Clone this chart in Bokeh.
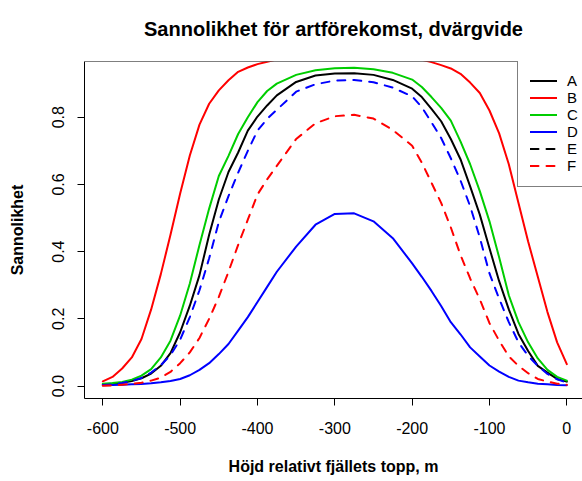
from bokeh.plotting import figure
from bokeh.models import Range1d, FixedTicker, Legend, LegendItem, Span
from bokeh.embed import file_html
from bokeh.resources import INLINE

# ---- data ----
hojd = [-600, -587.5, -575, -562.5, -550, -537.5, -525, -512.5, -500, -487.5, -475, -462.5,
        -450, -437.5, -425, -412.5, -400, -387.5, -375,
        -350, -325, -300, -275, -250, -225,
        -200, -187.5, -175, -162.5, -150, -137.5, -125, -112.5, -100, -87.5, -75, -62.5,
        -50, -37.5, -25, -12.5, 0]

A = [0.005, 0.007, 0.010, 0.015, 0.023, 0.037, 0.060, 0.098, 0.160, 0.239, 0.330, 0.450,
     0.555, 0.637, 0.695, 0.760, 0.802, 0.835, 0.865,
     0.905, 0.924, 0.930, 0.931, 0.926, 0.911,
     0.885, 0.860, 0.825, 0.788, 0.735, 0.675, 0.594, 0.510, 0.410, 0.312, 0.228, 0.155,
     0.104, 0.060, 0.040, 0.021, 0.013]
B = [0.014, 0.027, 0.052, 0.085, 0.140, 0.228, 0.333, 0.450, 0.573, 0.686, 0.778, 0.840,
     0.880, 0.910, 0.935, 0.948, 0.958, 0.965, 0.972,
     0.980, 0.985, 0.987, 0.987, 0.985, 0.980,
     0.975, 0.971, 0.964, 0.955, 0.945, 0.929, 0.903, 0.872, 0.820, 0.752, 0.660, 0.545,
     0.430, 0.325, 0.220, 0.130, 0.065]
C = [0.007, 0.009, 0.012, 0.019, 0.031, 0.050, 0.085, 0.135, 0.210, 0.305, 0.420, 0.528,
     0.625, 0.685, 0.750, 0.800, 0.845, 0.878, 0.900,
     0.926, 0.940, 0.946, 0.947, 0.943, 0.932,
     0.912, 0.890, 0.860, 0.828, 0.790, 0.728, 0.660, 0.580, 0.490, 0.383, 0.270, 0.190,
     0.130, 0.082, 0.048, 0.027, 0.016]
D = [0.002, 0.003, 0.004, 0.005, 0.006, 0.008, 0.011, 0.015, 0.021, 0.032, 0.048, 0.068,
     0.095, 0.125, 0.165, 0.205, 0.250, 0.295, 0.340,
     0.415, 0.480, 0.512, 0.514, 0.490, 0.440,
     0.365, 0.325, 0.283, 0.238, 0.190, 0.154, 0.115, 0.088, 0.061, 0.043, 0.027, 0.016,
     0.011, 0.007, 0.005, 0.003, 0.002]
E = [0.003, 0.005, 0.009, 0.015, 0.024, 0.040, 0.062, 0.092, 0.138, 0.205, 0.285, 0.380,
     0.488, 0.565, 0.635, 0.700, 0.760, 0.795, 0.822,
     0.876, 0.898, 0.909, 0.911, 0.904, 0.888,
     0.862, 0.830, 0.785, 0.738, 0.678, 0.612, 0.535, 0.442, 0.335, 0.260, 0.190, 0.130,
     0.090, 0.060, 0.036, 0.020, 0.010]
F = [0.001, 0.002, 0.004, 0.006, 0.010, 0.016, 0.025, 0.042, 0.068, 0.100, 0.143, 0.200,
     0.265, 0.340, 0.420, 0.495, 0.570, 0.615, 0.655,
     0.735, 0.782, 0.803, 0.807, 0.796, 0.762,
     0.715, 0.665, 0.605, 0.545, 0.472, 0.390, 0.320, 0.258, 0.187, 0.135, 0.088, 0.060,
     0.038, 0.021, 0.013, 0.007, 0.004]

series_names = ["A", "B", "C", "D", "E", "F"]
series_values = [A, B, C, D, E, F]
line_colors = ["black", "#FF0000", "#00CD00", "#0000FF", "#0000FF", "#FF0000"]
line_dashes = ["solid", "solid", "solid", "solid", "8 8", "8 8"]
legend_colors = ["black", "#FF0000", "#00CD00", "#0000FF", "black", "#FF0000"]

x_ticks = [-600, -500, -400, -300, -200, -100, 0]
x_tick_labels = ["-600", "-500", "-400", "-300", "-200", "-100", "0"]
y_ticks = [0.0, 0.2, 0.4, 0.6, 0.8]
y_tick_labels = ["0.0", "0.2", "0.4", "0.6", "0.8"]

title_text = "Sannolikhet för artförekomst, dvärgvide"
x_label = "Höjd relativt fjällets topp, m"
y_label = "Sannolikhet"

FONT = "Liberation Sans"
Y_TOP = 0.9658
Y_BOTTOM = -0.0372

p = figure(width=582, height=481,
           x_range=Range1d(-623.7, 20.3), y_range=Range1d(Y_BOTTOM, Y_TOP),
           output_backend="svg", toolbar_location=None,
           min_border_left=84, min_border_right=0, min_border_top=61, min_border_bottom=83)

p.background_fill_color = "white"
p.border_fill_color = "white"
p.outline_line_color = None
p.grid.visible = False

# title: an empty second line lifts the title line away from the frame
p.title.text = title_text + "\n "
p.title.align = "center"
p.title.text_font = FONT
p.title.text_font_size = "20px"
p.title.text_font_style = "bold"
p.title.text_color = "black"
p.title.standoff = 0

for ax in (p.xaxis[0], p.yaxis[0]):
    ax.axis_line_color = "black"
    ax.axis_line_width = 1
    ax.major_tick_line_color = "black"
    ax.major_tick_out = 7
    ax.major_tick_in = 0
    ax.minor_tick_line_color = None
    ax.major_label_text_font = FONT
    ax.major_label_text_font_size = "16px"
    ax.major_label_text_color = "black"
    ax.axis_label_text_font = FONT
    ax.axis_label_text_font_size = "16px"
    ax.axis_label_text_font_style = "bold"
    ax.axis_label_text_color = "black"

p.xaxis.ticker = FixedTicker(ticks=x_ticks)
p.xaxis.major_label_overrides = {t: s for t, s in zip(x_ticks, x_tick_labels)}
p.xaxis.axis_label = x_label
p.xaxis.major_label_standoff = 16
p.xaxis.axis_label_standoff = 21

p.yaxis.ticker = FixedTicker(ticks=y_ticks)
p.yaxis.major_label_overrides = {t: s for t, s in zip(y_ticks, y_tick_labels)}
p.yaxis.axis_label = y_label
p.yaxis.major_label_orientation = "vertical"
p.yaxis.major_label_standoff = 13
p.yaxis.axis_label_standoff = 24

# top edge of the box
p.add_layout(Span(location=Y_TOP, dimension="width", line_color="black", line_width=1))

# curves
for name, vals, col, dash in zip(series_names, series_values, line_colors, line_dashes):
    p.line(hojd, vals, line_color=col, line_width=2, line_dash=dash,
           line_join="round", line_cap="round")

# legend (styled entries)
items = []
for name, col, dash in zip(series_names, legend_colors, line_dashes):
    r = p.line([float("nan")], [float("nan")], line_color=col, line_width=2, line_dash=dash,
               line_cap="round")
    items.append(LegendItem(label=name, renderers=[r]))

legend = Legend(items=items, location=(433, 211), orientation="vertical",
                margin=0, padding=12, spacing=0,
                glyph_width=27, glyph_height=17, label_height=17, label_standoff=10,
                label_text_font=FONT, label_text_font_size="15px", label_text_color="black",
                label_text_baseline="middle",
                border_line_color="black", border_line_width=1,
                background_fill_color="white", background_fill_alpha=1.0)
p.add_layout(legend, "center")

open("out.html", "w").write(file_html(p, INLINE))
